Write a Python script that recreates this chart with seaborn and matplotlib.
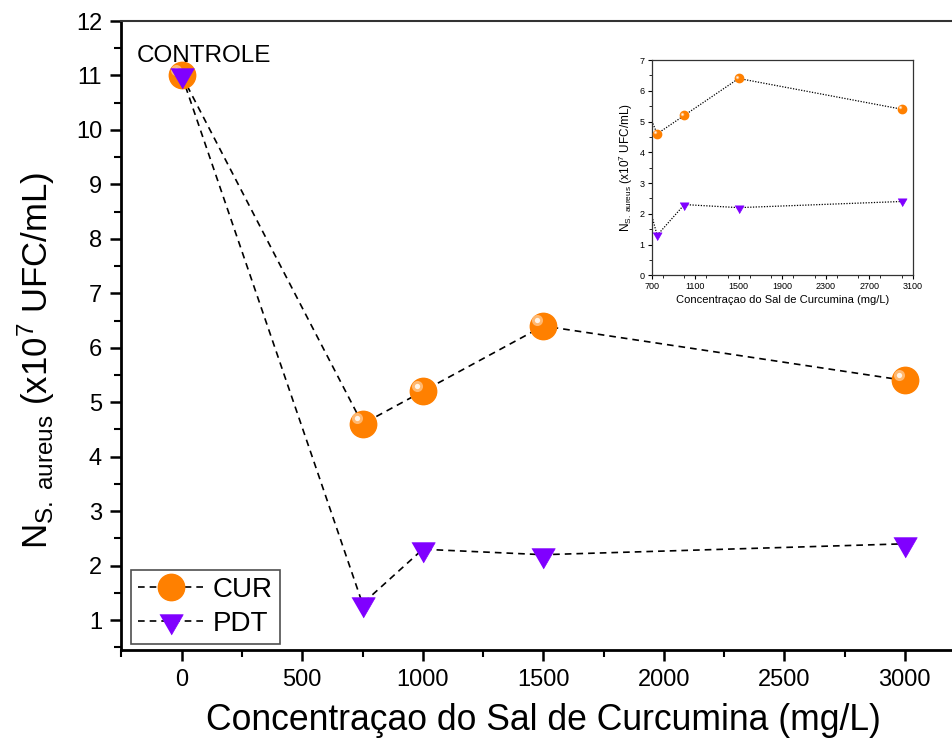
import matplotlib
matplotlib.use("Agg")
import matplotlib.pyplot as plt
import matplotlib.transforms as mtransforms
from matplotlib.lines import Line2D
from matplotlib.ticker import MultipleLocator
import seaborn as sns
import pandas as pd

sns.set_style("white")
plt.rcParams['font.family'] = ['Liberation Sans', 'DejaVu Sans']
plt.rcParams['mathtext.fontset'] = 'custom'
plt.rcParams['mathtext.rm'] = 'Liberation Sans'
plt.rcParams['mathtext.it'] = 'Liberation Sans'
for k in ['text.color', 'axes.labelcolor', 'xtick.color', 'ytick.color']:
    plt.rcParams[k] = 'black'

# data
concentration = [0, 750, 1000, 1500, 3000]
cur_values = [11.0, 4.6, 5.2, 6.4, 5.4]
pdt_values = [11.0, 1.3, 2.3, 2.2, 2.4]
series_names = ["CUR", "PDT"]
annotation = "CONTROLE"
xlabel = "Concentraçao do Sal de Curcumina (mg/L)"
ylabel = r"$\mathregular{N_{S.\ aureus}\ (x10^7\ UFC/mL)}$"

ORANGE = "#FF8000"
PURPLE = "#8000FF"
TRI = [(-1, 0.5774), (1, 0.5774), (0, -1.1547)]

df_cur = pd.DataFrame({"x": concentration, "y": cur_values})
df_pdt = pd.DataFrame({"x": concentration, "y": pdt_values})

fig = plt.figure(figsize=(9.52, 7.49), dpi=100)
L, R, B, T = 121.5, 953.0, 650.0, 21.0
ax = fig.add_axes([L/952, 1-B/749, (R-L)/952, (B-T)/749])


def draw(ax, ms_c, ms_t, lw, ls):
    sns.lineplot(data=df_cur, x="x", y="y", ax=ax, color="black", lw=lw, ls=ls,
                 estimator=None, sort=False, zorder=1)
    sns.lineplot(data=df_pdt, x="x", y="y", ax=ax, color="black", lw=lw, ls=ls,
                 estimator=None, sort=False, zorder=1)
    ax.plot(df_cur["x"], df_cur["y"], ls="none", marker="o", ms=ms_c,
            mfc=ORANGE, mec=ORANGE, zorder=3)
    off = mtransforms.offset_copy(ax.transData, fig=fig, x=-ms_c*0.22, y=ms_c*0.22, units="points")
    ax.plot(df_cur["x"], df_cur["y"], ls="none", marker="o", ms=ms_c*0.42,
            mfc="#FFB870", mec="none", transform=off, zorder=4)
    ax.plot(df_cur["x"], df_cur["y"], ls="none", marker="o", ms=ms_c*0.2,
            mfc="#FFF4E8", mec="none", transform=off, zorder=5)
    ax.plot(df_pdt["x"], df_pdt["y"], ls="none", marker=TRI, ms=ms_t,
            mfc=PURPLE, mec=PURPLE, mew=0.5, zorder=6)


draw(ax, 19, 19.5, 1.2, (0, (4, 3)))
ax.set_xlim(-250, 3200)
ax.set_ylim(0.45, 12)
ax.set_xticks([0, 500, 1000, 1500, 2000, 2500, 3000])
ax.xaxis.set_minor_locator(MultipleLocator(250))
ax.set_yticks(range(1, 13))
ax.yaxis.set_minor_locator(MultipleLocator(0.5))
ax.tick_params(axis="both", which="major", direction="out", length=8, width=1.8,
               labelsize=17, bottom=True, left=True, pad=6)
ax.tick_params(axis="both", which="minor", direction="out", length=5, width=1.5,
               bottom=True, left=True)
for s in ["left", "bottom"]:
    ax.spines[s].set_linewidth(2)
    ax.spines[s].set_color("black")
ax.spines["top"].set_linewidth(1.5)
ax.spines["top"].set_color("#333333")
ax.spines["right"].set_visible(False)
ax.set_xlabel(xlabel, fontsize=25.6)
ax.xaxis.set_label_coords(0.5075, -0.085)
ax.set_ylabel(ylabel, fontsize=25)
ax.yaxis.set_label_coords(-0.077, 0.46)
ax.text(-188, 11.25, annotation, fontsize=17.5, ha="left", va="baseline")

handles = [
    Line2D([], [], color="black", lw=1.2, ls=(0, (4, 3)), marker="o", ms=19, mfc=ORANGE, mec=ORANGE),
    Line2D([], [], color="black", lw=1.2, ls=(0, (4, 3)), marker=TRI, ms=19.5, mfc=PURPLE, mec=PURPLE, mew=0.5),
]
leg = ax.legend(handles, series_names, loc="lower left", fontsize=20, frameon=True,
                fancybox=False, edgecolor="#222222", handlelength=2.4, handletextpad=0.3,
                borderpad=0.25, labelspacing=0.3,
                bbox_to_anchor=(9.5/831.5, 6/629), borderaxespad=0.0)
leg.get_frame().set_linewidth(1.2)

# inset
ax2 = fig.add_axes([651.7/952, 1-275.3/749, (912.7-651.7)/952, (275.3-60)/749])
draw(ax2, 6, 7.5, 0.9, (0, (1, 1.2)))
ax2.set_xlim(700, 3100)
ax2.set_ylim(0, 7)
ax2.set_xticks([700, 1100, 1500, 1900, 2300, 2700, 3100])
ax2.xaxis.set_minor_locator(MultipleLocator(200))
ax2.set_yticks(range(0, 8))
ax2.yaxis.set_minor_locator(MultipleLocator(0.5))
ax2.tick_params(axis="both", which="major", direction="out", length=3, width=0.8,
                labelsize=6.5, bottom=True, left=True, pad=2)
ax2.tick_params(axis="both", which="minor", direction="out", length=2, width=0.6,
                bottom=True, left=True)
for s in ax2.spines.values():
    s.set_linewidth(0.9)
    s.set_color("#333333")
ax2.set_xlabel(xlabel, fontsize=8, labelpad=3)
ax2.set_ylabel(ylabel, fontsize=8.5, labelpad=3)

fig.savefig("out.png", dpi=100)
